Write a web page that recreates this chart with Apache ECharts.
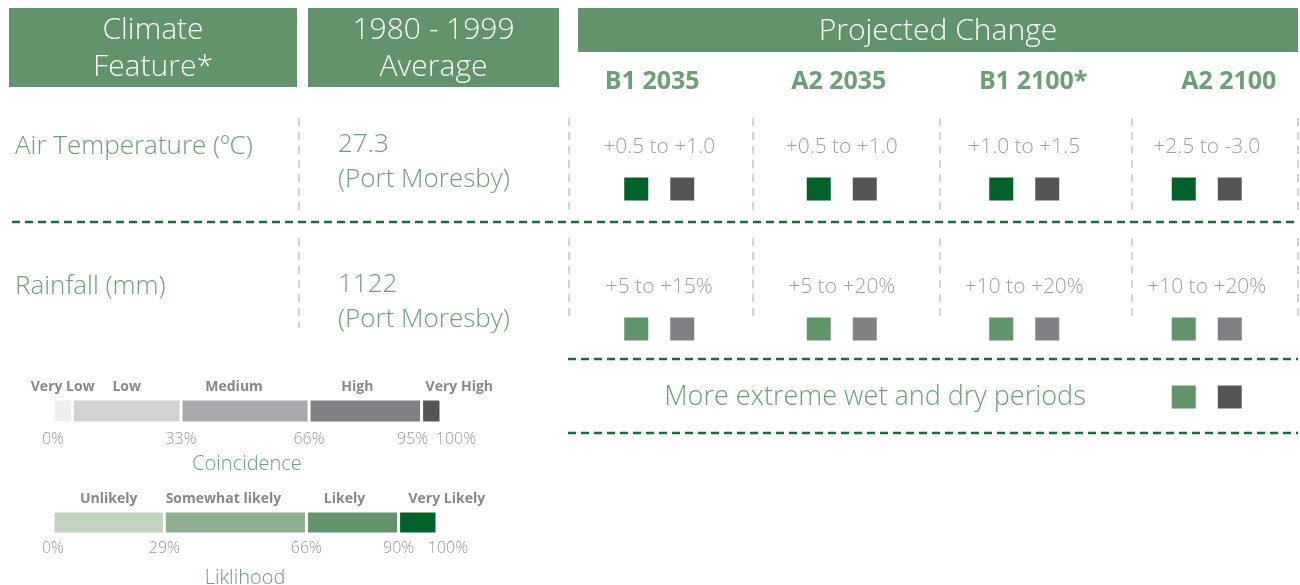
<!DOCTYPE html>
<html>
<head>
<meta charset="utf-8">
<script src="https://cdn.jsdelivr.net/npm/echarts@6/dist/echarts.min.js"></script>
<style>
  html, body { margin: 0; padding: 0; background: #fff; }
  #main { width: 1300px; height: 585px; }
</style>
</head>
<body>
<div id="main"></div>
<script>
// ---- table data ----
const scenarios = ['B1 2035', 'A2 2035', 'B1 2100*', 'A2 2100'];
const features = ['Air Temperature (ºC)', 'Rainfall (mm)'];
const baselines = ['27.3', '1122'];
const baselineSite = '(Port Moresby)';
const tempRange = ['+0.5 to +1.0', '+0.5 to +1.0', '+1.0 to +1.5', '+2.5 to -3.0'];
const rainRange = ['+5 to +15%', '+5 to +20%', '+10 to +20%', '+10 to +20%'];
const tempLikelihood = ['Very Likely', 'Very Likely', 'Very Likely', 'Very Likely'];
const tempCoincidence = ['Very High', 'Very High', 'Very High', 'Very High'];
const rainLikelihood = ['Likely', 'Likely', 'Likely', 'Likely'];
const rainCoincidence = ['High', 'High', 'High', 'High'];
const extremeText = 'More extreme wet and dry periods';
const extremeScenario = 'A2 2100';
const extremeLikelihood = 'Likely';
const extremeCoincidence = 'Very High';

// ---- legend scales ----
const coincidenceLevels = ['Very Low', 'Low', 'Medium', 'High', 'Very High'];
const coincidenceBreaks = [0, 5, 33, 66, 95, 100];
const coincidenceTicks = [0, 33, 66, 95, 100];
const likelihoodLevels = ['Unlikely', 'Somewhat likely', 'Likely', 'Very Likely'];
const likelihoodBreaks = [0, 29, 66, 90, 100];
const likelihoodTicks = [0, 29, 66, 90, 100];

// colours
const coincidenceColors = {
  'Very Low': '#efefef', 'Low': '#d1d2d4', 'Medium': '#a7a8ab', 'High': '#808184', 'Very High': '#555557'
};
const likelihoodColors = {
  'Unlikely': '#c0d4c0', 'Somewhat likely': '#8fb08e', 'Likely': '#62946a', 'Very Likely': '#006129'
};
const headerGreen = '#62936a';
const textGreen = '#6d9f77';
const textGray = '#868688';
const lineGreen = '#1f6b35';
const font = "'Open Sans', 'DejaVu Sans', sans-serif";

// label nudges (pixels)
const levelLabelShift = {
  'Medium': -11, 'High': -8, 'Very High': 28,
  'Somewhat likely': -12, 'Likely': -8, 'Very Likely': 29
};
const scenarioLabelShift = { 'B1 2035': -7, 'A2 2035': -3, 'B1 2100*': 9, 'A2 2100': 22 };

const chart = echarts.init(document.getElementById('main'));

function squares(rows, colorMap) {
  const data = [];
  rows.forEach(function (levels, r) {
    levels.forEach(function (lv, c) {
      data.push({ value: [c, r], itemStyle: { color: colorMap[lv], opacity: 1 } });
    });
  });
  return data;
}

function rangeData() {
  const data = [];
  [tempRange, rainRange].forEach(function (arr, r) {
    arr.forEach(function (t, c) { data.push({ value: [c, r], name: t }); });
  });
  return data;
}

function legendSeries(levels, breaks, colors, axisIdx) {
  return levels.map(function (lv, i) {
    return {
      type: 'bar',
      name: lv,
      stack: 'legend' + axisIdx,
      xAxisIndex: axisIdx,
      yAxisIndex: axisIdx + 1,
      barWidth: '100%',
      data: [breaks[i + 1] - breaks[i]],
      itemStyle: { color: colors[lv], borderColor: '#fff', borderWidth: 1.5, opacity: 1 },
      label: {
        show: true,
        position: 'top',
        distance: 5,
        offset: [levelLabelShift[lv] || 0, 0],
        formatter: lv,
        fontFamily: font,
        fontWeight: 'bold',
        fontSize: 14,
        color: '#88888a'
      },
      silent: true
    };
  });
}

// shift a centred label sideways by padding one side of a rich token
function shiftedText(text, s) {
  if (!s) return text;
  return '{' + (s > 0 ? 'r' : 'l') + Math.abs(s) + '|' + text + '}';
}
function shiftRich(shifts, base) {
  const rich = {};
  Object.keys(shifts).forEach(function (k) {
    const s = shifts[k];
    if (!s) return;
    const st = Object.assign({}, base);
    st.padding = s > 0 ? [0, 0, 0, 2 * s] : [0, -2 * s, 0, 0];
    rich[(s > 0 ? 'r' : 'l') + Math.abs(s)] = st;
  });
  return rich;
}

const tickStyle = { fontFamily: font, fontSize: 16, color: '#98989a', fontWeight: 300 };

function legendAxis(gridIdx, ticks, name, shift, margin, nameGap) {
  return {
    type: 'value', gridIndex: gridIdx, min: 0, max: 100,
    axisLine: { show: false }, axisTick: { show: false }, splitLine: { show: false },
    axisLabel: Object.assign({
      customValues: ticks, margin: margin,
      formatter: function (v) { return shiftedText(v + '%', shift[v]); },
      rich: shiftRich(shift, tickStyle)
    }, tickStyle),
    name: name, nameLocation: 'middle', nameGap: nameGap,
    nameTextStyle: { fontFamily: font, fontSize: 20, color: textGreen, fontWeight: 300 }
  };
}

// dashed divider lines
const graphics = [];
function hline(x1, x2, y) {
  graphics.push({
    type: 'line', shape: { x1: x1, y1: y, x2: x2, y2: y },
    style: { stroke: lineGreen, lineWidth: 2.5, lineDash: [8, 5] }, silent: true
  });
}
function vline(x, y1, y2) {
  graphics.push({
    type: 'line', shape: { x1: x, y1: y1, x2: x, y2: y2 },
    style: { stroke: '#d4d4d4', lineWidth: 2, lineDash: [8, 6] }, silent: true
  });
}
hline(12, 1298, 222);
hline(568, 1298, 359);
hline(568, 1298, 433);
[299, 569, 753, 940, 1132, 1298].forEach(function (x) {
  vline(x, 118, 212);
  vline(x, 238, x === 299 ? 328 : 322);
});

function header(x, y, w, h, text, lh) {
  graphics.push({
    type: 'rect', shape: { x: x, y: y, width: w, height: h },
    style: { fill: headerGreen }, silent: true
  });
  graphics.push({
    type: 'text', x: x + w / 2, y: y + h / 2 + 1,
    style: {
      text: text, fill: '#fff', font: '300 30px ' + font,
      align: 'center', verticalAlign: 'middle', lineHeight: lh
    }, silent: true
  });
}
header(9, 8, 288, 79, 'Climate\nFeature*', 37);
header(308, 8, 251, 79, '1980 - 1999\nAverage', 37);
header(578, 8, 720, 44, 'Projected Change', 32);

graphics.push({
  type: 'text', x: 875, y: 397,
  style: {
    text: extremeText, fill: textGreen, font: '300 27px ' + font,
    align: 'center', verticalAlign: 'middle'
  }, silent: true
});

const headStyle = { fontFamily: font, fontWeight: 'bold', fontSize: 25, color: textGreen };
const bodyStyle = { fontFamily: font, fontWeight: 300, fontSize: 26, color: textGreen };

const option = {
  animation: false,
  backgroundColor: '#fff',
  textStyle: { fontFamily: font },
  graphic: graphics,
  grid: [
    { left: 568, width: 730, top: 77, height: 280, outerBoundsMode: 'none' },
    { left: 568, width: 730, top: 375, height: 44, outerBoundsMode: 'none' },
    { left: 53, width: 388, top: 399, height: 24, outerBoundsMode: 'none' },
    { left: 53, width: 384, top: 511, height: 23, outerBoundsMode: 'none' }
  ],
  xAxis: [
    {
      type: 'category', gridIndex: 0, data: scenarios, position: 'top',
      axisLine: { show: false }, axisTick: { show: false }, splitLine: { show: false },
      axisLabel: Object.assign({
        interval: 0, hideOverlap: false,
        margin: -5, verticalAlign: 'middle',
        formatter: function (v) { return shiftedText(v, scenarioLabelShift[v]); },
        rich: shiftRich(scenarioLabelShift, headStyle)
      }, headStyle)
    },
    {
      type: 'category', gridIndex: 1, data: scenarios,
      axisLine: { show: false }, axisTick: { show: false }, axisLabel: { show: false }, splitLine: { show: false }
    },
    legendAxis(2, coincidenceTicks, 'Coincidence', { 95: -9, 100: 15 }, 8, 31),
    legendAxis(3, likelihoodTicks, 'Liklihood', { 100: 11 }, 6, 34)
  ],
  yAxis: [
    {
      type: 'category', gridIndex: 0, data: features, inverse: true, position: 'left',
      axisLine: { show: false }, axisTick: { show: false }, splitLine: { show: false },
      axisLabel: Object.assign({ interval: 0, margin: 553, align: 'left', verticalAlign: 'middle' }, bodyStyle)
    },
    {
      type: 'category', gridIndex: 0, data: baselines, inverse: true, position: 'left',
      axisLine: { show: false }, axisTick: { show: false }, splitLine: { show: false },
      axisLabel: Object.assign({
        interval: 0, margin: 230, align: 'left', verticalAlign: 'middle',
        formatter: function (v) { return '{s| }\n{a|' + v + '}\n{a|' + baselineSite + '}'; },
        rich: {
          s: { fontSize: 10, lineHeight: 31 },
          a: Object.assign({ lineHeight: 35 }, bodyStyle)
        }
      }, bodyStyle)
    },
    {
      type: 'category', gridIndex: 1, data: ['extreme'],
      axisLine: { show: false }, axisTick: { show: false }, axisLabel: { show: false }, splitLine: { show: false }
    },
    {
      type: 'category', gridIndex: 2, data: ['Coincidence'],
      axisLine: { show: false }, axisTick: { show: false }, axisLabel: { show: false }, splitLine: { show: false }
    },
    {
      type: 'category', gridIndex: 3, data: ['Likelihood'],
      axisLine: { show: false }, axisTick: { show: false }, axisLabel: { show: false }, splitLine: { show: false }
    }
  ],
  series: [
    {
      type: 'scatter', xAxisIndex: 0, yAxisIndex: 0, silent: true,
      symbolSize: 1, itemStyle: { color: 'rgba(0,0,0,0)' },
      data: rangeData(),
      label: {
        show: true, position: 'inside', formatter: '{b}',
        fontFamily: font, fontWeight: 300, fontSize: 21, color: textGray
      }
    },
    {
      type: 'scatter', xAxisIndex: 0, yAxisIndex: 0, silent: true,
      symbol: 'rect', symbolSize: [24, 23], symbolOffset: [-23, 42],
      data: squares([tempLikelihood, rainLikelihood], likelihoodColors)
    },
    {
      type: 'scatter', xAxisIndex: 0, yAxisIndex: 0, silent: true,
      symbol: 'rect', symbolSize: [24, 23], symbolOffset: [23, 42],
      data: squares([tempCoincidence, rainCoincidence], coincidenceColors)
    },
    {
      type: 'scatter', xAxisIndex: 1, yAxisIndex: 2, silent: true,
      symbol: 'rect', symbolSize: [24, 23], symbolOffset: [-23, 0],
      data: [{ value: [scenarios.indexOf(extremeScenario), 0], itemStyle: { color: likelihoodColors[extremeLikelihood], opacity: 1 } }]
    },
    {
      type: 'scatter', xAxisIndex: 1, yAxisIndex: 2, silent: true,
      symbol: 'rect', symbolSize: [24, 23], symbolOffset: [23, 0],
      data: [{ value: [scenarios.indexOf(extremeScenario), 0], itemStyle: { color: coincidenceColors[extremeCoincidence], opacity: 1 } }]
    }
  ].concat(
    legendSeries(coincidenceLevels, coincidenceBreaks, coincidenceColors, 2),
    legendSeries(likelihoodLevels, likelihoodBreaks, likelihoodColors, 3)
  )
};

chart.setOption(option);
</script>
</body>
</html>
